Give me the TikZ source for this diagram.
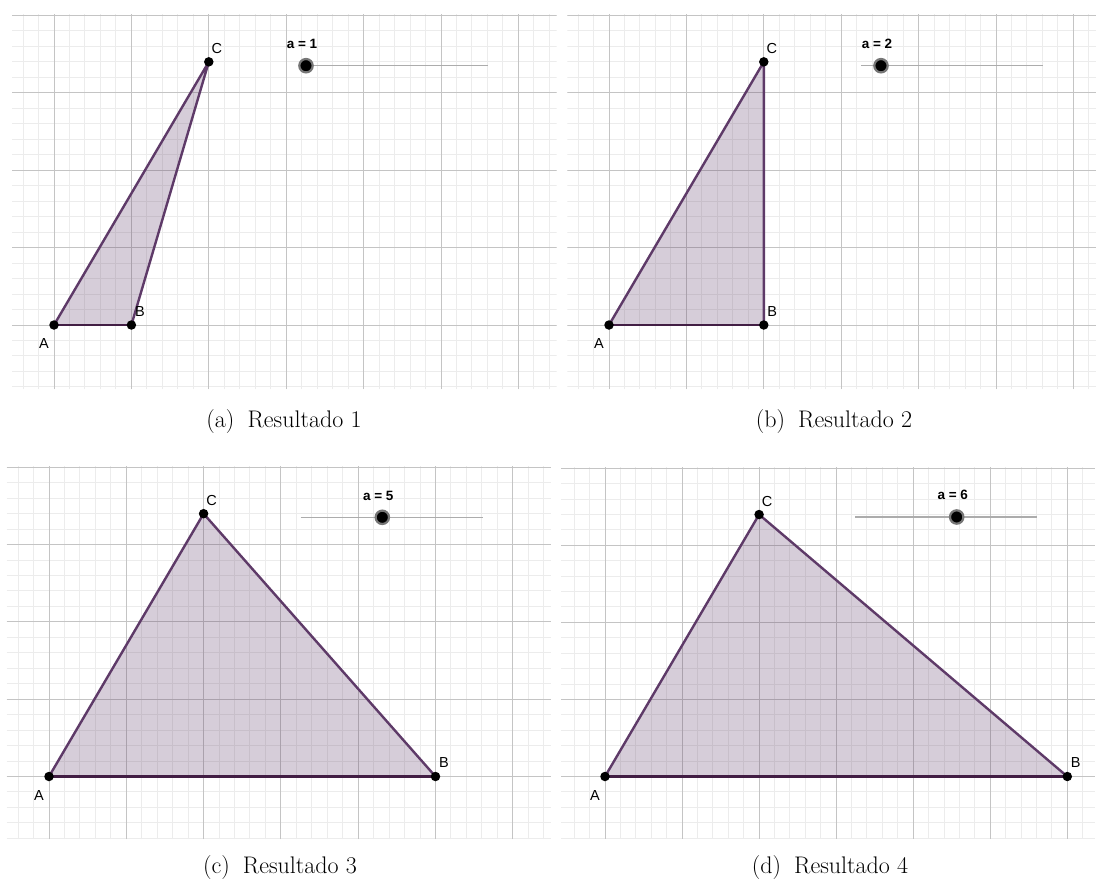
\documentclass[tikz,border=0pt]{standalone}
\usepackage{fontspec}
\newfontfamily\ggb{Liberation Sans}
\usetikzlibrary{calc}
\definecolor{majorc}{RGB}{196,196,196}
\definecolor{minorc}{RGB}{236,236,236}
\definecolor{polyc}{RGB}{94,58,104}
\definecolor{polyab}{RGB}{66,30,68}
\definecolor{slidec}{RGB}{172,172,172}
\definecolor{knobring}{RGB}{118,118,118}
\tikzset{
  minorgrid/.style={draw=minorc, line width=1pt},
  majorgrid/.style={draw=majorc, line width=1pt},
  trifill/.style={fill=polyc, fill opacity=0.25},
  edge/.style={draw=polyc, line width=2.4pt, line join=round},
  edgeab/.style={draw=polyab, line width=2.6pt},
  pt/.style={circle, fill=black, inner sep=0pt, minimum size=9.5pt},
  lbl/.style={font=\ggb\fontsize{14.5}{16}\selectfont, inner sep=0pt},
  slbl/.style={font=\ggb\bfseries\fontsize{13.5}{15}\selectfont, inner sep=0pt},
  sliderline/.style={draw=slidec, line width=1.5pt},
  knob/.style={circle, fill=black, draw=knobring, line width=2.2pt, inner sep=0pt, minimum size=13.4pt},
  captext/.style={font=\fontsize{24}{28}\selectfont, inner sep=0pt}
}
% #1 prefix, #2 ox, #3 oy, #4 unit, #5 left, #6 right, #7 bottom, #8 a
\newcommand\drawpanel[8]{%
  \begin{scope}[shift={(#2,#3)}, x=#4pt, y=#4pt]
    \begin{scope}
      \clip (#5,#7) rectangle (#6,4.008);
      \foreach \i in {-5,...,35} \draw[minorgrid] (\i/5,#7) -- (\i/5,4.1);
      \foreach \j in {-5,...,20} \draw[minorgrid] (#5,\j/5) -- (#6,\j/5);
      \foreach \i in {-1,...,7} \draw[majorgrid] (\i,#7) -- (\i,4.1);
      \foreach \j in {-1,...,4} \draw[majorgrid] (#5,\j) -- (#6,\j);
    \end{scope}
    \coordinate (#1A) at (0,0);
    \coordinate (#1B) at (#8,0);
    \coordinate (#1C) at (2,3.4);
    \fill[trifill] (#1A) -- (#1B) -- (#1C) -- cycle;
    \draw[edge] (#1A) -- (#1C) -- (#1B);
    \draw[edgeab] (#1A) -- (#1B);
    \node[pt] (#1pA) at (#1A) {};
    \node[pt] (#1pB) at (#1B) {};
    \node[pt] (#1pC) at (#1C) {};
    \node[lbl, xshift=-10pt, yshift=-19pt] (#1lA) at (#1A) {A};
    \node[lbl, xshift=8.5pt, yshift=13.5pt] (#1lB) at (#1B) {B};
    \node[lbl, xshift=8pt, yshift=13.5pt] (#1lC) at (#1C) {C};
  \end{scope}
}
% #1 prefix, #2 sx, #3 sy, #4 kx, #5 a
\newcommand\drawslider[5]{%
  \coordinate (#1s0) at (#2,#3);
  \coordinate (#1s1) at ($(#2,#3)+(182,0)$);
  \draw[sliderline] (#1s0) -- (#1s1);
  \node[knob] (#1k) at (#4,#3) {};
  \node[slbl] (#1sl) at ($(#4,#3)+(-4,-21.7)$) {a = #5};
}
\begin{document}
\begin{tikzpicture}[x=1pt, y=-1pt]
  \useasboundingbox (0,0) rectangle (1096,884);
  \fill[white] (0,0) rectangle (1096,884);
  \drawpanel{a}{54}{325}{77.4}{-0.542}{6.495}{-0.83}{1}
  \drawpanel{b}{609}{325}{77.4}{-0.538}{6.29}{-0.83}{2}
  \drawpanel{c}{49}{776.5}{77.3}{-0.547}{6.5}{-0.81}{5}
  \drawpanel{d}{605}{776.5}{77.05}{-0.571}{6.36}{-0.81}{6}
  \drawslider{a}{306}{65.7}{306}{1}
  \drawslider{b}{861}{65.7}{881}{2}
  \drawslider{c}{300.7}{517.3}{382.3}{5}
  \drawslider{d}{855}{517}{956.7}{6}
  \node[captext] (capa) at (284,422) {(a)\hspace{0.55em}Resultado 1};
  \node[captext] (capb) at (834,422) {(b)\hspace{0.55em}Resultado 2};
  \node[captext] (capc) at (280,868) {(c)\hspace{0.55em}Resultado 3};
  \node[captext] (capd) at (830,868) {(d)\hspace{0.55em}Resultado 4};
\end{tikzpicture}
\end{document}
